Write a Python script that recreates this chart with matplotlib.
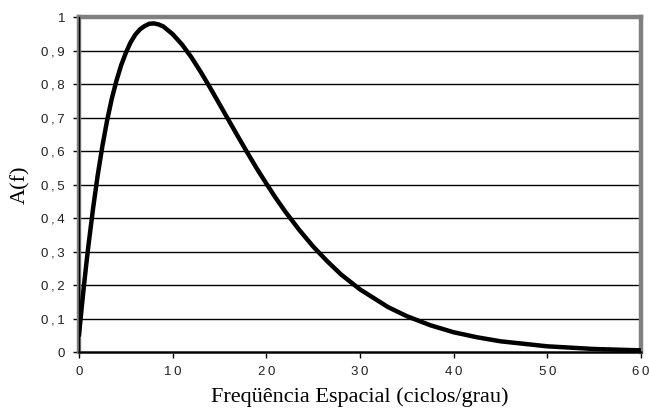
import numpy as np
import matplotlib
matplotlib.use('Agg')
import matplotlib.pyplot as plt

# values
freq = [0, 0.25, 0.5, 0.75, 1, 1.5, 2, 2.5, 3, 3.5, 4, 4.5, 5, 5.5, 6, 6.5,
        7, 7.5, 8, 8.5, 9, 10, 11, 12, 13, 14, 15, 16, 17, 18, 19, 20, 21,
        22, 23.5, 25, 26.5, 28, 30, 33, 35, 37.5, 40, 42.5, 45, 50, 55, 60]
amp = [0.05, 0.122, 0.19, 0.255, 0.316, 0.428, 0.528, 0.615, 0.691, 0.756,
       0.81, 0.856, 0.893, 0.924, 0.947, 0.963, 0.973, 0.98, 0.981, 0.978,
       0.972, 0.949, 0.918, 0.88, 0.836, 0.789, 0.74, 0.691, 0.642, 0.594,
       0.547, 0.503, 0.46, 0.42, 0.365, 0.315, 0.271, 0.231, 0.187, 0.134,
       0.107, 0.08, 0.059, 0.044, 0.032, 0.017, 0.009, 0.005]

xticks = [0, 10, 20, 30, 40, 50, 60]
yticks = [0, 0.1, 0.2, 0.3, 0.4, 0.5, 0.6, 0.7, 0.8, 0.9, 1]
ylabels = ['0', '0,1', '0,2', '0,3', '0,4', '0,5', '0,6', '0,7', '0,8', '0,9', '1']

def spaced(s):
    # Excel-like loose letter spacing
    return '\u2009'.join(s)

fig = plt.figure(figsize=(6.49, 4.16), dpi=100)
ax = fig.add_axes([0.1217, 0.1538, 0.8660, 0.8052])

for y in yticks[1:-1]:
    ax.axhline(y, color='black', lw=1.0, zorder=1)

ax.plot(freq, amp, color='black', lw=3.2, solid_capstyle='round',
        solid_joinstyle='round', zorder=3)

ax.set_xlim(0, 60)
ax.set_ylim(0, 1)
ax.set_xticks(xticks)
ax.set_xticklabels([spaced(str(t)) for t in xticks])
ax.set_yticks(yticks)
ax.set_yticklabels([spaced(s) for s in ylabels])

for s in ['top', 'right', 'left']:
    ax.spines[s].set_color('#808080')
    ax.spines[s].set_linewidth(3.2)
ax.spines['bottom'].set_color('#404040')
ax.spines['bottom'].set_linewidth(2)
ax.axvline(0, color='black', lw=1, zorder=4, clip_on=False)
ax.axhline(0, color='black', lw=1, zorder=4, clip_on=False)

ax.tick_params(direction='out', length=4, width=1, color='black',
               labelsize=9.5, pad=6)
for lab in ax.get_xticklabels() + ax.get_yticklabels():
    lab.set_family(['Liberation Sans', 'DejaVu Sans'])
    lab.set_color('#222222')

ax.set_xlabel('Freqüência Espacial (ciclos/grau)', family='Liberation Serif',
              fontsize=16, labelpad=7)
ax.set_ylabel('A(f)', family='Liberation Serif', fontsize=16, labelpad=8)

fig.savefig('out.png', dpi=100)
